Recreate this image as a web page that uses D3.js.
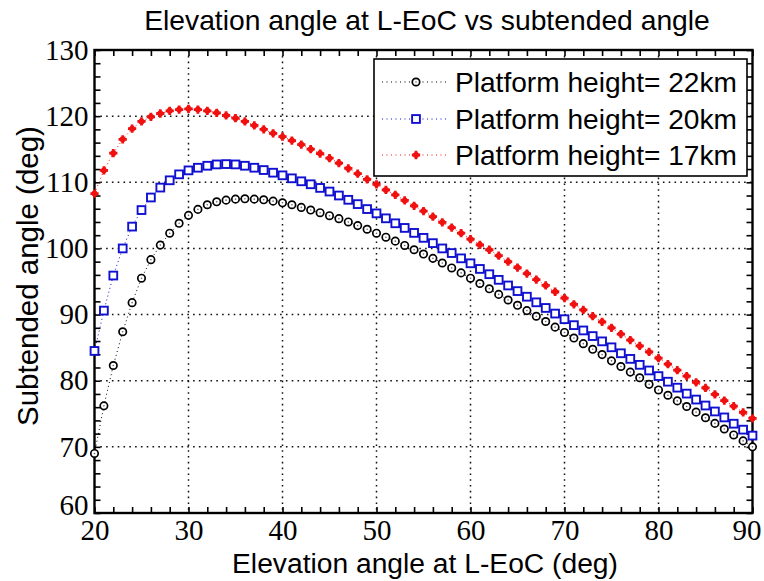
<!DOCTYPE html>
<html>
<head>
<meta charset="utf-8">
<script src="https://cdn.jsdelivr.net/npm/d3@7"></script>
<style>
  html, body { margin: 0; padding: 0; background: #fff; }
  svg { display: block; }
</style>
</head>
<body>
<svg id="chart" width="764" height="581"></svg>
<script>
// ---------- DATA ----------
const elevation = d3.range(20, 91); // 20..90 deg, step 1 (category positions)

const h22 = [69.0, 76.2, 82.3, 87.4, 91.8, 95.5, 98.3, 100.5, 102.3, 103.8,
  105.0, 105.9, 106.6, 107.05, 107.3, 107.45, 107.5, 107.45, 107.35, 107.15,
  106.9, 106.6, 106.2, 105.8, 105.4, 104.95, 104.5, 104.0, 103.45, 102.9,
  102.3, 101.7, 101.1, 100.45, 99.8, 99.15, 98.5, 97.8, 97.05, 96.3,
  95.5, 94.7, 93.9, 93.05, 92.2, 91.4, 90.6, 89.75, 88.95, 88.1,
  87.3, 86.45, 85.6, 84.75, 83.95, 83.0, 82.15, 81.3, 80.45, 79.45,
  78.6, 77.8, 76.95, 76.1, 75.25, 74.4, 73.55, 72.7, 71.8, 70.9, 70.0];

const h20 = [84.5, 90.6, 95.9, 100.0, 103.3, 105.8, 107.7, 109.2, 110.3, 111.2,
  111.8, 112.2, 112.5, 112.7, 112.75, 112.7, 112.5, 112.2, 111.85, 111.45,
  111.05, 110.6, 110.15, 109.7, 109.15, 108.6, 108.0, 107.35, 106.7, 105.95,
  105.3, 104.55, 103.8, 103.1, 102.35, 101.6, 100.8, 100.0, 99.3, 98.5,
  97.75, 96.9, 96.1, 95.25, 94.4, 93.55, 92.7, 91.85, 91.0, 90.15,
  89.3, 88.4, 87.6, 86.75, 85.95, 85.05, 84.15, 83.3, 82.4, 81.55,
  80.7, 79.85, 78.95, 78.05, 77.15, 76.25, 75.35, 74.45, 73.5, 72.6, 71.7];

const h17 = [108.3, 111.8, 114.4, 116.5, 118.1, 119.2, 119.9, 120.4, 120.8, 121.0,
  121.1, 121.0, 120.8, 120.5, 120.1, 119.7, 119.2, 118.6, 118.0, 117.4,
  116.9, 116.3, 115.7, 115.0, 114.35, 113.65, 112.9, 112.1, 111.3, 110.45,
  109.7, 108.85, 108.1, 107.25, 106.45, 105.65, 104.8, 103.95, 103.15, 102.3,
  101.4, 100.55, 99.8, 98.9, 98.0, 97.1, 96.2, 95.3, 94.4, 93.45,
  92.5, 91.55, 90.7, 89.75, 88.9, 88.0, 87.05, 86.15, 85.25, 84.35,
  83.4, 82.5, 81.6, 80.7, 79.75, 78.9, 77.95, 77.0, 76.15, 75.2, 74.3];

const seriesNames = ["Platform height= 22km", "Platform height= 20km", "Platform height= 17km"];
const xTicks = [20, 30, 40, 50, 60, 70, 80, 90];
const yTicks = [60, 70, 80, 90, 100, 110, 120, 130];
const titleText = "Elevation angle at L-EoC vs subtended angle";
const xLabel = "Elevation angle at L-EoC (deg)";
const yLabel = "Subtended angle (deg)";

// ---------- LAYOUT ----------
const svg = d3.select("#chart");
const L = 94.5, R = 752.5, T = 50, B = 513;
const x = d3.scaleLinear().domain([20, 90]).range([L, R]);
const y = d3.scaleLinear().domain([60, 130]).range([B, T]);

const series = [
  { name: seriesNames[0], values: h22, color: "#000000", marker: "circle" },
  { name: seriesNames[1], values: h20, color: "#1010d0", marker: "square" },
  { name: seriesNames[2], values: h17, color: "#f01010", marker: "star" }
];

// ---------- GRID ----------
const grid = svg.append("g");
grid.selectAll("line.vg").data(xTicks.slice(1, -1)).join("line")
  .attr("x1", d => x(d)).attr("x2", d => x(d)).attr("y1", T).attr("y2", B)
  .attr("stroke", "#111").attr("stroke-width", 1.5).attr("stroke-dasharray", "1.6,4.2");
grid.selectAll("line.hg").data(yTicks.slice(1, -1)).join("line")
  .attr("y1", d => y(d)).attr("y2", d => y(d)).attr("x1", L).attr("x2", R)
  .attr("stroke", "#111").attr("stroke-width", 1.5).attr("stroke-dasharray", "1.6,4.2");

// ---------- AXES (inward ticks, all four sides) ----------
const tickFont = "'Liberation Serif', 'Times New Roman', serif";
const minorX = d3.range(20, 91, 2);
const minorY = d3.range(60, 131, 2);

const axB = svg.append("g").attr("transform", `translate(0,${B})`)
  .call(d3.axisBottom(x).tickValues(minorX).tickSize(-6).tickFormat(""));
const axT = svg.append("g").attr("transform", `translate(0,${T})`)
  .call(d3.axisTop(x).tickValues(minorX).tickSize(-6).tickFormat(""));
const axL = svg.append("g").attr("transform", `translate(${L},0)`)
  .call(d3.axisLeft(y).tickValues(minorY).tickSize(-6).tickFormat(""));
const axR = svg.append("g").attr("transform", `translate(${R},0)`)
  .call(d3.axisRight(y).tickValues(minorY).tickSize(-6).tickFormat(""));
[axB, axT, axL, axR].forEach(g => {
  g.select(".domain").remove();
  g.selectAll(".tick line").attr("stroke", "#000").attr("stroke-width", 1.6);
});

// tick labels via axes with zero-size ticks
const lblX = svg.append("g").attr("transform", `translate(0,${B})`)
  .call(d3.axisBottom(x).tickValues(xTicks).tickSize(0).tickPadding(4).tickFormat(d3.format("d")));
lblX.select(".domain").remove();
lblX.selectAll("text").attr("font-family", tickFont).attr("font-size", 29).attr("fill", "#000")
  .attr("dy", "0.78em");
lblX.selectAll(".tick").filter(d => d === 90).select("text").attr("dx", "-6");
const lblY = svg.append("g").attr("transform", `translate(${L},0)`)
  .call(d3.axisLeft(y).tickValues(yTicks).tickSize(0).tickPadding(6).tickFormat(d3.format("d")));
lblY.select(".domain").remove();
lblY.selectAll("text").attr("font-family", tickFont).attr("font-size", 29).attr("fill", "#000");
lblY.selectAll(".tick").filter(d => d === 60).select("text").attr("dy", "0.05em");

// frame
svg.append("rect").attr("x", L).attr("y", T).attr("width", R - L).attr("height", B - T)
  .attr("fill", "none").attr("stroke", "#000").attr("stroke-width", 2.4);

// ---------- MARKERS ----------
function drawMarker(sel, type, color) {
  if (type === "circle") {
    sel.append("circle").attr("r", 3.7).attr("fill", "#fff")
      .attr("stroke", color).attr("stroke-width", 1.7);
    sel.append("circle").attr("r", 0.8).attr("fill", "#666");
  } else if (type === "square") {
    sel.append("rect").attr("x", -3.9).attr("y", -3.9).attr("width", 7.8).attr("height", 7.8)
      .attr("fill", "#fff").attr("stroke", color).attr("stroke-width", 1.9);
  } else {
    sel.append("path").attr("d", d3.symbol().type(d3.symbolCross).size(38)())
      .attr("fill", color);
    sel.append("circle").attr("r", 3.0).attr("fill", color);
  }
}

// ---------- SERIES ----------
const line = d3.line().x((d, i) => x(elevation[i])).y(d => y(d));
series.forEach(s => {
  svg.append("path").datum(s.values).attr("d", line)
    .attr("fill", "none").attr("stroke", s.color).attr("stroke-width", 1)
    .attr("stroke-dasharray", "1,3");
  const g = svg.append("g");
  g.selectAll("g").data(s.values).join("g")
    .attr("transform", (d, i) => `translate(${x(elevation[i])},${y(d)})`)
    .each(function () { drawMarker(d3.select(this), s.marker, s.color); });
});

// ---------- LEGEND ----------
const lg = svg.append("g");
lg.append("rect").attr("x", 374).attr("y", 59).attr("width", 373).attr("height", 117)
  .attr("fill", "#fff").attr("stroke", "#000").attr("stroke-width", 1.6);
const rowY = [82, 119, 155];
series.forEach((s, i) => {
  lg.append("line").attr("x1", 382).attr("x2", 448).attr("y1", rowY[i]).attr("y2", rowY[i])
    .attr("stroke", s.color).attr("stroke-width", 1).attr("stroke-dasharray", "1,3.5");
  const m = lg.append("g").attr("transform", `translate(416,${rowY[i]})`);
  drawMarker(m, s.marker, s.color);
  const t = lg.append("text").attr("x", 455).attr("y", rowY[i]).attr("dy", "0.36em")
    .attr("font-family", "'Liberation Sans', Arial, sans-serif").attr("font-size", 24)
    .attr("fill", "#000").text(s.name);
  const w = t.node().getComputedTextLength();
  t.attr("font-size", 24 * 282 / w);
});

// ---------- TITLES ----------
function fitText(sel, size, target) {
  const w = sel.node().getComputedTextLength();
  sel.attr("font-size", size * target / w);
}
const title = svg.append("text").attr("x", 427).attr("y", 30).attr("text-anchor", "middle")
  .attr("font-family", "'Liberation Sans', Arial, sans-serif").attr("font-size", 22)
  .attr("fill", "#000").text(titleText);
fitText(title, 22, 566);

const xl = svg.append("text").attr("x", 425).attr("y", 573).attr("text-anchor", "middle")
  .attr("font-family", "'Liberation Sans', Arial, sans-serif").attr("font-size", 24)
  .attr("fill", "#000").text(xLabel);
fitText(xl, 24, 386);

const yl = svg.append("text").attr("transform", "translate(38,276) rotate(-90)")
  .attr("text-anchor", "middle")
  .attr("font-family", "'Liberation Sans', Arial, sans-serif").attr("font-size", 24)
  .attr("fill", "#000").text(yLabel);
fitText(yl, 24, 300);
</script>
</body>
</html>
